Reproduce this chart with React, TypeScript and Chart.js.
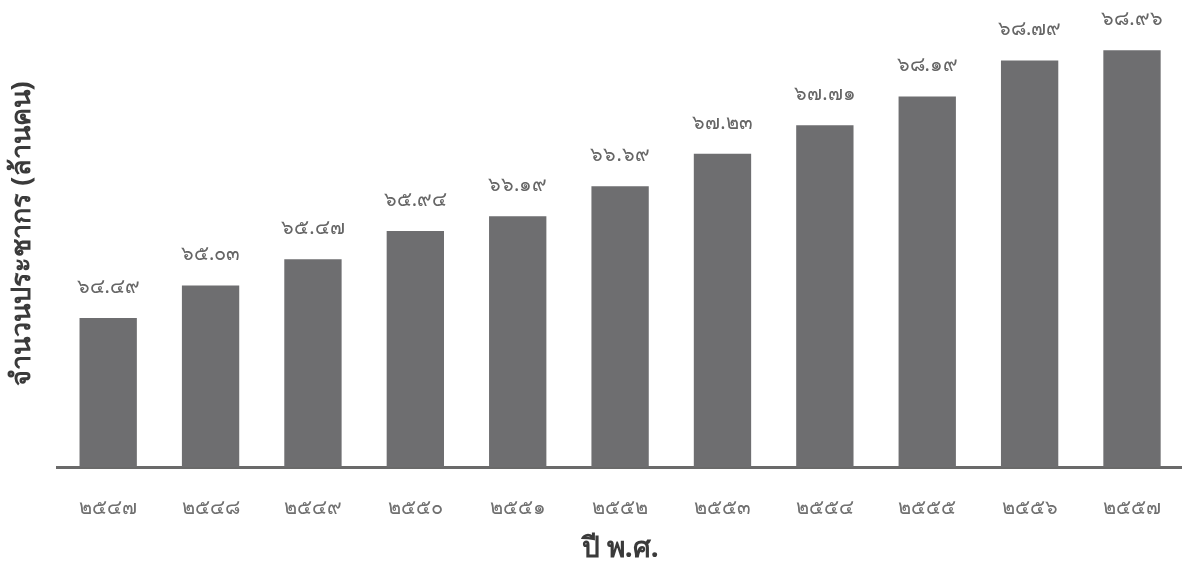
import React, { useEffect, useRef } from "react";
import { Chart, registerables } from "chart.js";

Chart.register(...registerables);

const yearLabels = ["๒๕๔๗", "๒๕๔๘", "๒๕๔๙", "๒๕๕๐", "๒๕๕๑", "๒๕๕๒", "๒๕๕๓", "๒๕๕๔", "๒๕๕๕", "๒๕๕๖", "๒๕๕๗"];
const population = [64.49, 65.03, 65.47, 65.94, 66.19, 66.69, 67.23, 67.71, 68.19, 68.79, 68.96];
const yTitle = "จำนวนประชากร (ล้านคน)";
const xTitle = "ปี พ.ศ.";

const thaiDigits = ["๐", "๑", "๒", "๓", "๔", "๕", "๖", "๗", "๘", "๙"];
const toThai = (s: string) => s.replace(/[0-9]/g, (d) => thaiDigits[Number(d)]);

const FONT = "'Noto Sans', 'DejaVu Sans', sans-serif";

const valueLabelPlugin = {
  id: "valueLabels",
  afterDatasetsDraw(chart: any) {
    const ctx = chart.ctx;
    const meta = chart.getDatasetMeta(0);
    ctx.save();
    ctx.font = `20px ${FONT}`;
    ctx.fillStyle = "#666666";
    ctx.textAlign = "center";
    ctx.textBaseline = "middle";
    meta.data.forEach((el: any, i: number) => {
      const v = chart.data.datasets[0].data[i] as number;
      ctx.fillText(toThai(v.toFixed(2)), el.x, el.y - 31);
    });
    ctx.restore();
  },
};

export default function App() {
  const ref = useRef<HTMLCanvasElement | null>(null);
  useEffect(() => {
    if (!ref.current) return;
    const chart = new Chart(ref.current, {
      type: "bar",
      data: {
        labels: yearLabels,
        datasets: [
          {
            data: population,
            backgroundColor: "#6e6e70",
            borderWidth: 0,
            categoryPercentage: 1,
            barPercentage: 0.56,
          },
        ],
      },
      options: {
        responsive: false,
        animation: false,
        layout: { padding: 0 },
        plugins: { legend: { display: false }, tooltip: { enabled: false } },
        scales: {
          x: {
            grid: { display: false, drawTicks: false },
            border: { display: true, color: "#6a6a6a", width: 3 },
            ticks: {
              color: "#707070",
              font: { family: FONT, size: 20 },
              padding: 29,
            },
            title: {
              display: true,
              text: xTitle,
              color: "#3a3a3a",
              font: { family: FONT, size: 28, weight: "bold" },
              padding: { top: 0, bottom: 3 },
            },
            afterFit: (scale: any) => {
              scale.height = 102;
            },
          },
          y: {
            min: 62,
            max: 69.8,
            grid: { display: false, drawTicks: false },
            border: { display: false },
            ticks: { display: false },
            title: {
              display: true,
              text: yTitle,
              color: "#3a3a3a",
              font: { family: FONT, size: 27, weight: "bold" },
              padding: { top: 6, bottom: 0 },
            },
            afterFit: (scale: any) => {
              scale.width = 57;
            },
          },
        },
      },
      plugins: [valueLabelPlugin],
    });
    return () => chart.destroy();
  }, []);
  return (
    <div style={{ position: "fixed", left: 0, top: 0, width: 1182, height: 569, overflow: "hidden", background: "#fff" }}>
      <canvas ref={ref} width={1190} height={569} style={{ display: "block" }} />
    </div>
  );
}
